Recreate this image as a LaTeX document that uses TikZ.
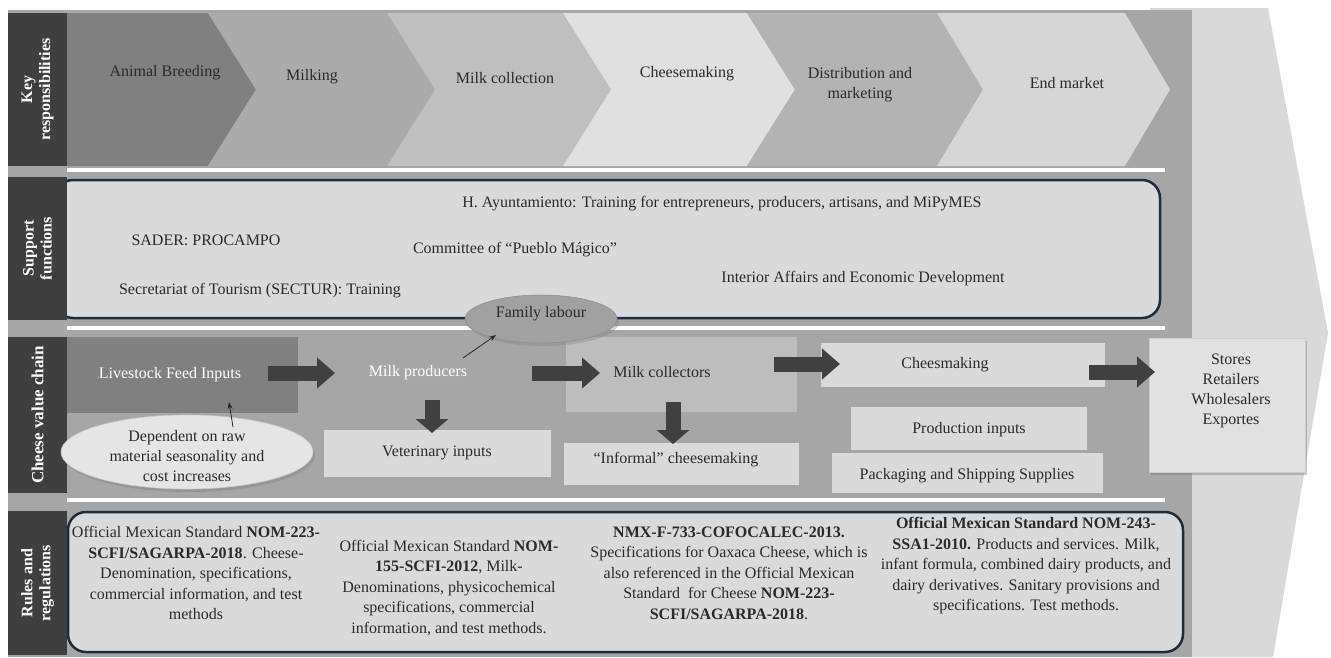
\documentclass[tikz,border=0pt]{standalone}
\usepackage{fontspec}
\setmainfont{Liberation Serif}
\usetikzlibrary{arrows.meta,shadows,shapes.geometric}
\definecolor{panel}{HTML}{A6A6A6}
\definecolor{bigarrow}{HTML}{D9D9D9}
\definecolor{labelbg}{HTML}{3F3F3F}
\definecolor{navy}{HTML}{1F2D3A}
\definecolor{txt}{HTML}{2A2A2A}
\definecolor{chA}{HTML}{808080}
\definecolor{chB}{HTML}{ABABAB}
\definecolor{chC}{HTML}{BFBFBF}
\definecolor{chD}{HTML}{E0E0E0}
\definecolor{chE}{HTML}{B3B3B3}
\definecolor{chF}{HTML}{D6D6D6}
\definecolor{boxfill}{HTML}{DADADA}
\definecolor{darkbox}{HTML}{808080}
\definecolor{midbox}{HTML}{BDBDBD}
\definecolor{arrowdark}{HTML}{404040}
\begin{document}
\begin{tikzpicture}[x=1pt,y=-1pt,
  lbl/.style={text=white, font=\bfseries\fontsize{16}{18}\selectfont, align=center, inner sep=0pt, rotate=90},
  maintxt/.style={text=txt, font=\fontsize{16}{20}\selectfont, align=center, inner sep=0pt},
  whitetxt/.style={text=white, font=\fontsize{16}{20}\selectfont, align=center, inner sep=0pt},
  ruletxt/.style={text=txt, font=\fontsize{16}{20.5}\selectfont, align=center, inner sep=0pt},
  vbox/.style={fill=boxfill, draw=none, inner sep=0pt},
  blockarrow/.style={draw=arrowdark, line width=15pt, -{Triangle[length=18pt,width=30pt]}},
  thinarrow/.style={draw=black!85, line width=0.8pt, -{Stealth[length=7pt,width=5pt]}},
  roundbox/.style={draw=navy, line width=2.5pt, fill=boxfill, rounded corners=18pt},
  sepline/.style={draw=white, line width=4pt}
]
\useasboundingbox (0,0) rectangle (1331,657);
\fill[white] (0,0) rectangle (1331,657);
% big background arrow
\fill[bigarrow] (1150,8) -- (1268,8) -- (1328,333) -- (1273,657) -- (1150,657) -- cycle;
% main panel
\fill[panel] (8,10) rectangle (1192,657);

% chevrons
\fill[chA] (67,13) -- (208,13) -- (256,89.5) -- (208,166) -- (67,166) -- cycle;
\fill[chB] (208,13) -- (387,13) -- (435,89.5) -- (387,166) -- (208,166) -- (256,89.5) -- cycle;
\fill[chC] (387,13) -- (563,13) -- (611,89.5) -- (563,166) -- (387,166) -- (435,89.5) -- cycle;
\fill[chD] (563,13) -- (747,13) -- (795,89.5) -- (747,166) -- (563,166) -- (611,89.5) -- cycle;
\fill[chE] (747,13) -- (937,13) -- (983,89.5) -- (937,166) -- (747,166) -- (795,89.5) -- cycle;
\fill[chF] (937,13) -- (1125,13) -- (1170,89.5) -- (1125,166) -- (937,166) -- (983,89.5) -- cycle;

\node[maintxt] (breeding) at (165,73) {Animal Breeding};
\node[maintxt] (milking) at (312,77) {Milking};
\node[maintxt] (collection) at (505,78) {Milk collection};
\node[maintxt] (cheese) at (687,74) {Cheesemaking};
\node[maintxt] (distrib) at (860,85) {Distribution and\\marketing};
\node[maintxt] (endmkt) at (1067,83) {End market};

% separators
\path[sepline] (67,170) -- (1165,170);
\path[sepline] (67,328) -- (1165,328);
\path[sepline] (67,500) -- (1165,500);

% support functions box
\path[roundbox] (55,180) rectangle (1160,318);
\node[maintxt] (ayunt) at (722,204) {H. Ayuntamiento: Training for entrepreneurs, producers, artisans, and MiPyMES};
\node[maintxt] (sader) at (206,240) {SADER: PROCAMPO};
\node[maintxt] (pueblo) at (515,250) {Committee of “Pueblo Mágico”};
\node[maintxt] (sectur) at (260,291) {Secretariat of Tourism (SECTUR): Training};
\node[maintxt] (interior) at (863,279) {Interior Affairs and Economic Development};

% rules box
\path[roundbox] (68,512) rectangle (1183,652);

% label strips
\fill[labelbg] (8,13) rectangle (67,166);
\fill[labelbg] (8,177) rectangle (67,320);
\fill[labelbg] (8,337) rectangle (67,493);
\fill[labelbg] (8,511) rectangle (67,655);
\node[lbl] (lkey) at (37.5,89.5) {Key\\responsibilities};
\node[lbl] (lsup) at (37.5,248.5) {Support\\functions};
\node[lbl, font=\bfseries\fontsize{17}{18}\selectfont] (lchain) at (37.5,415) {Cheese value chain};
\node[lbl] (lrules) at (37.5,583) {Rules and\\regulations};

% value chain
\node[fill=darkbox, inner sep=0pt, minimum width=231pt, minimum height=76pt] (livebox) at (182.5,375) {};
\node[whitetxt] (livestock) at (170,375) {Livestock Feed Inputs};
\node[whitetxt] (milkprod) at (418,373) {Milk producers};
\node[fill=midbox, inner sep=0pt, minimum width=231pt, minimum height=75pt] (collbox) at (681.5,374.5) {};
\node[maintxt] (collectors) at (662,372) {Milk collectors};
\node[vbox, minimum width=227pt, minimum height=47pt] (vetbox) at (437.5,453.5) {};
\node[maintxt] (vet) at (437,453) {Veterinary inputs};
\node[vbox, minimum width=235pt, minimum height=42pt] (infbox) at (681.5,464) {};
\node[maintxt] (informal) at (676,460) {“Informal” cheesemaking};
\node[vbox, minimum width=284pt, minimum height=44pt] (cmbox) at (963,365) {};
\node[maintxt] (cheesm) at (945,365) {Cheesmaking};
\node[vbox, minimum width=236pt, minimum height=43pt] (prodbox) at (969,428.5) {};
\node[maintxt] (prodin) at (969,430) {Production inputs};
\node[vbox, minimum width=271pt, minimum height=40pt] (packbox) at (967.5,473) {};
\node[maintxt] (pack) at (967,476) {Packaging and Shipping Supplies};
\node[fill=boxfill!80!white, draw=black!20, inner sep=0pt, minimum width=156pt, minimum height=134pt,
      drop shadow={opacity=0.45, shadow xshift=2pt, shadow yshift=-3pt}] (storebox) at (1227,405) {};
\node[maintxt] (stores) at (1231,391) {Stores\\Retailers\\Wholesalers\\Exportes};

% ellipses
\node[ellipse, fill=black!10, draw=black!20, line width=0.6pt, inner sep=0pt, minimum width=252pt, minimum height=74pt,
      drop shadow={opacity=0.4, shadow xshift=2pt, shadow yshift=-3pt}] (depell) at (187,452) {};
\node[maintxt] (dep) at (187,456) {Dependent on raw\\material seasonality and\\cost increases};
\node[ellipse, fill=black!37, draw=black!45, line width=0.5pt, inner sep=0pt, minimum width=152pt, minimum height=48pt,
      drop shadow={opacity=0.35, shadow xshift=2pt, shadow yshift=-3pt}] (famell) at (541,319) {};
\node[maintxt] (family) at (541,314) {Family labour};

% block arrows
\coordinate (a1s) at (268,373); \coordinate (a1e) at (335,373);
\coordinate (a2s) at (532,373); \coordinate (a2e) at (600,373);
\coordinate (a3s) at (774,364); \coordinate (a3e) at (840,364);
\coordinate (a4s) at (1089,372); \coordinate (a4e) at (1155,372);
\coordinate (d1s) at (432,400); \coordinate (d1e) at (432,433);
\coordinate (d2s) at (673,402); \coordinate (d2e) at (673,444);
\draw[blockarrow] (a1s) -- (a1e);
\draw[blockarrow] (a2s) -- (a2e);
\draw[blockarrow] (a3s) -- (a3e);
\draw[blockarrow] (a4s) -- (a4e);
\draw[blockarrow, -{Triangle[length=14pt,width=32pt]}] (d1s) -- (d1e);
\draw[blockarrow, -{Triangle[length=14pt,width=32pt]}] (d2s) -- (d2e);

% thin arrows
\coordinate (depTop) at (233,427); \coordinate (liveBot) at (229,402);
\coordinate (prodTip) at (463,358); \coordinate (famBot) at (496,335);
\draw[thinarrow] (depTop) -- (liveBot);
\draw[thinarrow] (prodTip) -- (famBot);

% rules and regulations
\node[ruletxt] (r1) at (196,573) {Official Mexican Standard \textbf{NOM-223-}\\\textbf{SCFI/SAGARPA-2018}. Cheese-\\Denomination, specifications,\\commercial information, and test\\methods};
\node[ruletxt] (r2) at (449,588) {Official Mexican Standard \textbf{NOM-}\\\textbf{155-SCFI-2012}, Milk-\\Denominations, physicochemical\\specifications, commercial\\information, and test methods.};
\node[ruletxt] (r3) at (729,573) {\textbf{NMX-F-733-COFOCALEC-2013.}\\Specifications for Oaxaca Cheese, which is\\also referenced in the Official Mexican\\Standard\ \ for Cheese \textbf{NOM-223-}\\\textbf{SCFI/SAGARPA-2018}.};
\node[ruletxt] (r4) at (1026,566) {\textbf{Official Mexican Standard NOM-243-}\\\textbf{SSA1-2010.} Products and services. Milk,\\infant formula, combined dairy products, and\\dairy derivatives. Sanitary provisions and\\specifications. Test methods.};
\end{tikzpicture}
\end{document}
